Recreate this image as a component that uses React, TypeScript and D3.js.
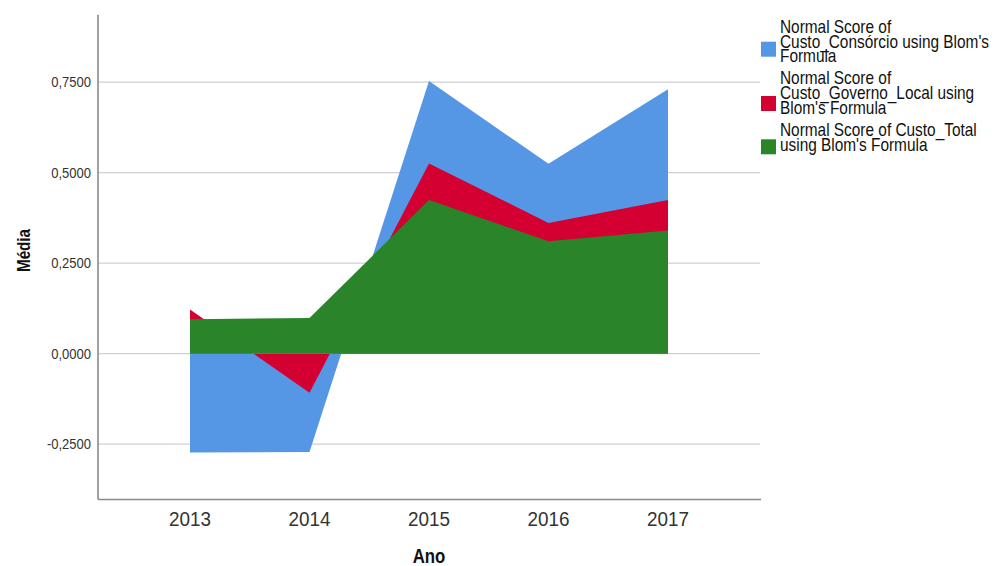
import React from "react";
import * as d3 from "d3";

const years = ["2013", "2014", "2015", "2016", "2017"];
const consorcio = [-0.273, -0.272, 0.753, 0.524, 0.73];
const governoLocal = [0.122, -0.108, 0.525, 0.361, 0.424];
const custoTotal = [0.095, 0.098, 0.424, 0.31, 0.34];
const yTicks = [-0.25, 0, 0.25, 0.5, 0.75];
const yTickLabels = ["-0,2500", "0,0000", "0,2500", "0,5000", "0,7500"];
const seriesNames = [
  ["Normal Score of", "Custo_Consórcio using Blom's", "Formula"],
  ["Normal Score of", "Custo_Governo_Local using", "Blom's Formula"],
  ["Normal Score of Custo_Total", "using Blom's Formula"],
];
const colors = ["#5596e5", "#d50032", "#2a852a"];

const FONT = "'Liberation Sans', Arial, sans-serif";

function T({ x, y, sx = 1, rotate = 0, size, anchor = "start", weight = "normal", fill = "#222", children }: any) {
  return (
    <text
      transform={`translate(${x},${y}) rotate(${rotate}) scale(${sx},1)`}
      fontFamily={FONT}
      fontSize={size}
      fontWeight={weight}
      textAnchor={anchor}
      fill={fill}
    >
      {children}
    </text>
  );
}

export default function App() {
  const left = 98;
  const right = 760;
  const top = 14.7;
  const bottom = 499.5;
  const x = d3.scalePoint<string>().domain(years).range([left, right]).padding(0.77);
  const y = d3.scaleLinear().domain([-0.403, 0.936]).range([bottom, top]);
  const series = [consorcio, governoLocal, custoTotal];
  const area = d3
    .area<number>()
    .x((_, i) => x(years[i]) as number)
    .y0(() => y(0))
    .y1((d) => y(d));

  const legendGroups = [
    { baselines: [32.5, 47.5, 62], sw: 41.7 },
    { baselines: [84, 99, 114], sw: 96 },
    { baselines: [136, 151], sw: 139.3 },
  ];

  return (
    <svg width={995} height={566} style={{ position: "absolute", left: 0, top: 0, background: "#fff" }}>
      <rect width={995} height={566} fill="#fff" />
      {yTicks.map((t, i) => (
        <line key={"g" + i} x1={left} x2={right} y1={y(t)} y2={y(t)} stroke="#cfcfcf" strokeWidth={1.2} />
      ))}
      {series.map((s, i) => (
        <path key={"a" + i} d={area(s) as string} fill={colors[i]} />
      ))}
      <line x1={left} x2={left} y1={top} y2={bottom} stroke="#8a8a8a" strokeWidth={1.6} />
      <line x1={left} x2={right + 1} y1={bottom} y2={bottom} stroke="#8a8a8a" strokeWidth={1.6} />
      {yTicks.map((t, i) => (
        <T key={"yl" + i} x={91} y={y(t) + 5} size={14} sx={0.93} anchor="end" fill="#333">
          {yTickLabels[i]}
        </T>
      ))}
      {years.map((yr) => (
        <T key={"xl" + yr} x={x(yr) as number} y={526} size={21} sx={0.9} anchor="middle" fill="#333">
          {yr}
        </T>
      ))}
      <T x={429} y={562.5} size={21} sx={0.8} anchor="middle" weight="bold" fill="#111">
        Ano
      </T>
      <T x={29.5} y={250.5} size={19} sx={0.8} rotate={-90} anchor="middle" weight="bold" fill="#111">
        Média
      </T>
      {legendGroups.map((g, i) => (
        <g key={"lg" + i}>
          <rect x={761} y={g.sw} width={15} height={15} fill={colors[i]} />
          {seriesNames[i].map((line, j) => (
            <T key={j} x={780} y={g.baselines[j]} size={17.5} sx={0.88} fill="#111">
              {line}
            </T>
          ))}
        </g>
      ))}
    </svg>
  );
}
